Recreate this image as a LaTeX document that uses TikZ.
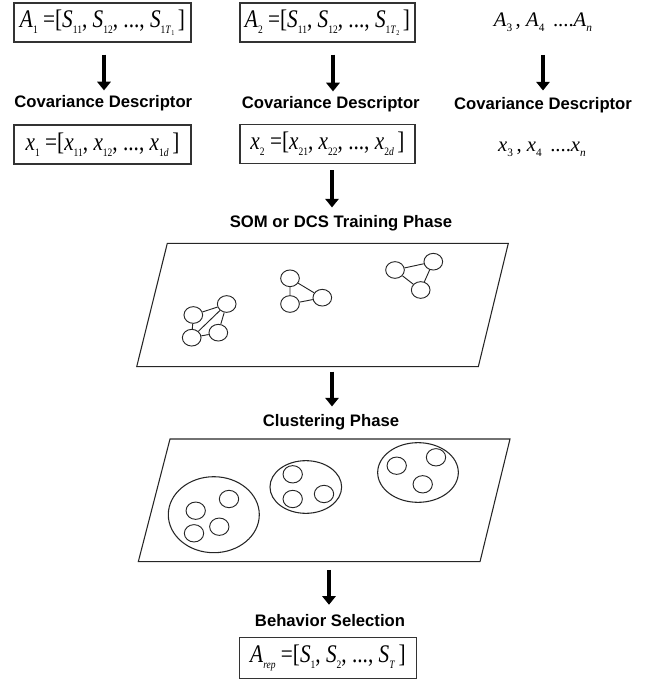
\documentclass[tikz,border=0pt]{standalone}
\usepackage{fontspec}
\setmainfont{Liberation Serif}
\setsansfont{Liberation Sans}
\usetikzlibrary{arrows.meta,shapes.geometric}
\newcommand{\sbs}[1]{\raisebox{-0.55ex}{\fontsize{8.5}{9}\selectfont\upshape #1}}
\newcommand{\ssbs}[1]{\raisebox{-0.3ex}{\fontsize{5.5}{6}\selectfont\upshape #1}}
\begin{document}
\begin{tikzpicture}[x=0.75pt,y=-0.75pt,
  eqbox/.style={draw=black!80, line width=1pt, inner sep=0pt, minimum height=29.25pt,
    font=\fontsize{19}{20}\selectfont},
  eqtext/.style={inner sep=0pt, font=\fontsize{15.5}{17}\selectfont},
  lbl/.style={inner sep=0pt, text height=9pt, text depth=2.5pt,
    font=\sffamily\bfseries\fontsize{12.5}{14}\selectfont},
  bigarrow/.style={line width=3pt, -{Triangle[width=10pt,length=6.5pt]}},
  plane/.style={draw=black!85, line width=0.8pt},
  unit/.style={ellipse, draw=black!85, line width=0.7pt, inner sep=0pt, minimum width=14pt, minimum height=12.5pt},
  cunit/.style={ellipse, draw=black!85, line width=0.7pt, inner sep=0pt, minimum width=14.5pt, minimum height=13pt},
  cluster/.style={ellipse, draw=black!85, line width=0.8pt, inner sep=0pt},
  link/.style={draw=black!85, line width=0.7pt}]
\useasboundingbox (0,0) rectangle (650,680);

% top row
\node[eqbox, minimum width=132.75pt] (A1) at (102.5,22.5)
  {\scalebox{0.84}[1]{\textit{A}\sbs{1} =[\textit{S}\sbs{11}, \textit{S}\sbs{12}, ..., \textit{S}\sbs{1\textit{T}\ssbs{1}}\,]}};
\node[eqbox, minimum width=131.25pt] (A2) at (327.5,22.5)
  {\scalebox{0.84}[1]{\textit{A}\sbs{2} =[\textit{S}\sbs{11}, \textit{S}\sbs{12}, ..., \textit{S}\sbs{1\textit{T}\ssbs{2}}\,]}};
\node[eqtext] (A3) at (543,22)
  {\textit{A}\sbs{3}\,, \textit{A}\sbs{4}\, ....\textit{A}\sbs{\textit{n}}};

\node[lbl] (cd1) at (103.3,103) {Covariance Descriptor};
\node[lbl] (cd2) at (330.8,104) {Covariance Descriptor};
\node[lbl] (cd3) at (543,105) {Covariance Descriptor};

\node[eqbox, minimum width=132.75pt] (x1) at (102.5,144.5)
  {\scalebox{0.84}[1]{\textit{x}\sbs{1} =[\textit{x}\sbs{11}, \textit{x}\sbs{12}, ..., \textit{x}\sbs{1\textit{d}}\,]}};
\node[eqbox, minimum width=131.25pt] (x2) at (327.5,144)
  {\scalebox{0.84}[1]{\textit{x}\sbs{2} =[\textit{x}\sbs{21}, \textit{x}\sbs{22}, ..., \textit{x}\sbs{2\textit{d}}\,]}};
\node[eqtext] (x3) at (542,149)
  {\textit{x}\sbs{3}\,, \textit{x}\sbs{4}\, ....\textit{x}\sbs{\textit{n}}};

\draw[bigarrow, shorten <=9pt, shorten >=3.5pt] (A1.south -| 104,0) -- (cd1.north -| 104,0);
\draw[bigarrow, shorten <=9pt, shorten >=3.5pt] (A2.south -| 333,0) -- (cd2.north -| 333,0);
\draw[bigarrow] (A3.south |- 0,55) -- (cd3.north |- 0,90.5);

% SOM
\node[lbl] (som) at (341,222.7) {SOM or DCS Training Phase};
\draw[bigarrow, shorten <=4.5pt, shorten >=5.5pt] (x2.south -| 332,0) -- (som.north -| 332,0);

\draw[plane] (167.3,243.3) -- (508.3,243.3) -- (478.3,366.7) -- (136.7,366.7) -- cycle;
\coordinate (p1b) at (332,366.7);

\node[unit] (a1) at (193.3,315) {};
\node[unit] (a2) at (226.7,304) {};
\node[unit] (a3) at (191.7,337.7) {};
\node[unit] (a4) at (218.3,332.7) {};
\draw[link] (a1) -- (a2) (a1) -- (a3) (a3) -- (a4) (a2) -- (a4) (a2) -- (a3);
\node[unit] (b1) at (290,278.3) {};
\node[unit] (b2) at (322.3,297.7) {};
\node[unit] (b3) at (290,304) {};
\draw[link] (b1) -- (b2) (b1) -- (b3) (b3) -- (b2);
\node[unit] (c1) at (395,270) {};
\node[unit] (c2) at (433.3,261.7) {};
\node[unit] (c3) at (420.7,290) {};
\draw[link] (c1) -- (c2) (c1) -- (c3) (c2) -- (c3);

% Clustering
\node[lbl] (clus) at (331,421.7) {Clustering Phase};
\draw[bigarrow, shorten <=3.75pt, shorten >=5.5pt] (p1b) -- (clus.north -| p1b);

\draw[plane] (170,439) -- (510,439) -- (480,561.7) -- (138.3,561.7) -- cycle;
\coordinate (p2b) at (329,561.7);

\node[cluster, minimum width=68.25pt, minimum height=57pt] (k1) at (213.8,514.7) {};
\node[cunit] at (195.7,510.7) {};
\node[cunit] at (229,499) {};
\node[cunit] at (194,533.3) {};
\node[cunit] at (219.3,526.7) {};
\node[cluster, minimum width=53.75pt, minimum height=39.5pt] (k2) at (305.8,487) {};
\node[cunit] at (292.7,474.3) {};
\node[cunit] at (324,494) {};
\node[cunit] at (292.7,499) {};
\node[cluster, minimum width=60.5pt, minimum height=44.75pt] (k3) at (418,472.5) {};
\node[cunit] at (396.7,465.7) {};
\node[cunit] at (436,457.3) {};
\node[cunit] at (422.7,484.3) {};

% Behavior
\node[lbl] (beh) at (330,621.7) {Behavior Selection};
\draw[bigarrow, shorten <=6.2pt, shorten >=6.75pt] (p2b) -- (beh.north -| p2b);

\node[eqbox, minimum width=133pt, minimum height=30.75pt] (Arep) at (328,657.8)
  {\scalebox{0.84}[1]{\textit{A}\sbs{\textit{rep}} =[\textit{S}\sbs{1}, \textit{S}\sbs{2}, ..., \textit{S}\sbs{\textit{T}}\,]}};
\end{tikzpicture}
\end{document}
